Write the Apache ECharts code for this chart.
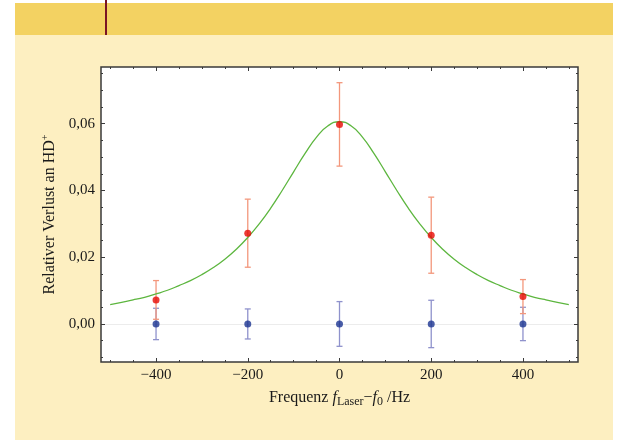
<!DOCTYPE html>
<html>
<head>
<meta charset="utf-8">
<script src="https://cdn.jsdelivr.net/npm/echarts@6/dist/echarts.min.js"></script>
<style>
  html, body { margin:0; padding:0; background:#ffffff; }
  #wrap { position:relative; width:622px; height:440px; overflow:hidden; }
  #panel { position:absolute; left:15px; top:35px; width:598px; height:405px; background:#fdefc1; }
  #banner { position:absolute; left:15px; top:3px; width:598px; height:32px; background:#f3d262; }
  #rule { position:absolute; left:105px; top:0px; width:1.5px; height:35px; background:#7a1424; }
  #chart { position:absolute; left:0; top:0; width:622px; height:440px; }
</style>
</head>
<body>
<div id="wrap">
  <div id="panel"></div>
  <div id="banner"></div>
  <div id="rule"></div>
  <div id="chart"></div>
</div>
<script>
// ---- data ----
const freqs = [-400, -200, 0, 200, 400];
const lossRed = [0.0072, 0.0272, 0.0598, 0.0266, 0.0082];
const errRed = [0.0058, 0.0102, 0.0125, 0.0114, 0.0051];
const lossBlue = [0, 0, 0, 0, 0];
const errBlue = [0.0047, 0.0045, 0.0067, 0.0071, 0.0050];
const fitX = [-500,-475,-450,-425,-400,-375,-350,-325,-300,-275,-250,-225,-200,-175,-150,-125,-100,-75,-50,-25,0,
              25,50,75,100,125,150,175,200,225,250,275,300,325,350,375,400,425,450,475,500];
const fitY = [0.0058,0.0065,0.0072,0.0080,0.0090,0.0101,0.0115,0.0130,0.0148,0.0169,0.0194,0.0224,0.0259,0.0300,0.0347,0.0400,0.0456,0.0511,0.0560,0.0594,0.0606,
              0.0594,0.0560,0.0511,0.0456,0.0400,0.0347,0.0300,0.0259,0.0224,0.0194,0.0169,0.0148,0.0130,0.0115,0.0101,0.0090,0.0080,0.0072,0.0065,0.0058];
const xTickLabels = [-400, -200, 0, 200, 400];
const yTickLabels = [0, 0.02, 0.04, 0.06];
const xMinor = [-500,-450,-400,-350,-300,-250,-200,-150,-100,-50,0,50,100,150,200,250,300,350,400,450,500];
const yMinor = [-0.01,-0.005,0,0.005,0.01,0.015,0.02,0.025,0.03,0.035,0.04,0.045,0.05,0.055,0.06,0.065,0.07,0.075];

const X_MIN = -520, X_MAX = 520, Y_MIN = -0.0114, Y_MAX = 0.077;
const serif = "'Liberation Serif', 'Times New Roman', 'DejaVu Serif', serif";
const frameColor = '#3a3a3a';
const textColor = '#1a1a1a';

function xAxisDef(pos, major, labels) {
  return {
    type: 'value', position: pos, min: X_MIN, max: X_MAX,
    axisLine: { show: false, onZero: false },
    splitLine: { show: false },
    axisTick: { show: true, inside: true, length: major ? 4 : 2,
      customValues: major ? xTickLabels : xMinor,
      lineStyle: { color: frameColor, width: 1 } },
    axisLabel: labels ? {
      show: true, customValues: xTickLabels, margin: 6,
      fontFamily: serif, fontSize: 15, color: textColor,
      formatter: v => (v < 0 ? '\u2212' + Math.abs(v) : String(v))
    } : { show: false }
  };
}
function yAxisDef(pos, major, labels) {
  return {
    type: 'value', position: pos, min: Y_MIN, max: Y_MAX,
    axisLine: { show: false, onZero: false },
    splitLine: { show: false },
    axisTick: { show: true, inside: true, length: major ? 4 : 2,
      customValues: major ? yTickLabels : yMinor,
      lineStyle: { color: frameColor, width: 1 } },
    axisLabel: labels ? {
      show: true, customValues: yTickLabels, margin: 6,
      fontFamily: serif, fontSize: 15, color: textColor,
      formatter: v => v.toFixed(2).replace('.', ',')
    } : { show: false }
  };
}

const xAxes = [xAxisDef('bottom', true, true), xAxisDef('bottom', false, false),
               xAxisDef('top', true, false), xAxisDef('top', false, false)];
const yAxes = [yAxisDef('left', true, true), yAxisDef('left', false, false),
               yAxisDef('right', true, false), yAxisDef('right', false, false)];

xAxes[0].name = '{n|Frequenz }{i|f}{s|Laser}{n|\u2212}{i|f}{s|0}{n| /Hz}';
xAxes[0].nameLocation = 'middle';
xAxes[0].nameGap = 26;
xAxes[0].nameTextStyle = {
  fontFamily: serif, fontSize: 16, color: textColor,
  rich: {
    n: { fontFamily: serif, fontSize: 16, color: textColor },
    i: { fontFamily: serif, fontSize: 16, fontStyle: 'italic', color: textColor },
    s: { fontFamily: serif, fontSize: 12, color: textColor, padding: [8, 0, 0, 0] }
  }
};
yAxes[0].name = '{n|Relativer Verlust an HD}{p|+}';
yAxes[0].nameLocation = 'middle';
yAxes[0].nameRotate = 90;
yAxes[0].nameGap = 33;
yAxes[0].nameTextStyle = {
  fontFamily: serif, fontSize: 16, color: textColor,
  rich: {
    n: { fontFamily: serif, fontSize: 16, color: textColor },
    p: { fontFamily: serif, fontSize: 10, color: textColor, padding: [0, 0, 9, 0] }
  }
};

function errorBars(xs, ys, es, color) {
  return {
    type: 'custom',
    xAxisIndex: 0, yAxisIndex: 0, z: 2, silent: true,
    data: xs.map((x, i) => [x, ys[i] - es[i], ys[i] + es[i]]),
    renderItem: function (params, api) {
      const lo = api.coord([api.value(0), api.value(1)]);
      const hi = api.coord([api.value(0), api.value(2)]);
      const cap = 3;
      const style = { stroke: color, lineWidth: 1.3 };
      return {
        type: 'group',
        children: [
          { type: 'line', shape: { x1: lo[0], y1: lo[1], x2: hi[0], y2: hi[1] }, style },
          { type: 'line', shape: { x1: lo[0] - cap, y1: lo[1], x2: lo[0] + cap, y2: lo[1] }, style },
          { type: 'line', shape: { x1: hi[0] - cap, y1: hi[1], x2: hi[0] + cap, y2: hi[1] }, style }
        ]
      };
    }
  };
}

const chart = echarts.init(document.getElementById('chart'), null, { renderer: 'canvas' });
chart.setOption({
  backgroundColor: 'transparent',
  animation: false,
  grid: { left: 101, top: 67, width: 477, height: 295, show: true,
          backgroundColor: '#ffffff', borderColor: frameColor, borderWidth: 1.5 },
  xAxis: xAxes,
  yAxis: yAxes,
  series: [
    {
      type: 'line', xAxisIndex: 0, yAxisIndex: 0, data: [], silent: true, z: 0,
      markLine: { silent: true, symbol: 'none', label: { show: false }, z: 0,
        lineStyle: { color: '#ececec', width: 1, type: 'solid' },
        data: [{ yAxis: 0 }] }
    },
    errorBars(freqs, lossBlue, errBlue, '#8f92cc'),
    errorBars(freqs, lossRed, errRed, '#f3977c'),
    {
      type: 'line', xAxisIndex: 0, yAxisIndex: 0, z: 3, silent: true,
      data: fitX.map((x, i) => [x, fitY[i]]),
      smooth: true, showSymbol: false,
      lineStyle: { color: '#5db63f', width: 1.3 }
    },
    {
      type: 'scatter', xAxisIndex: 0, yAxisIndex: 0, z: 4, silent: true,
      data: freqs.map((x, i) => [x, lossBlue[i]]),
      symbol: 'circle', symbolSize: 7, itemStyle: { color: '#1c3591' }
    },
    {
      type: 'scatter', xAxisIndex: 0, yAxisIndex: 0, z: 4, silent: true,
      data: freqs.map((x, i) => [x, lossRed[i]]),
      symbol: 'circle', symbolSize: 7, itemStyle: { color: '#e60a05' }
    }
  ]
});
</script>
</body>
</html>
